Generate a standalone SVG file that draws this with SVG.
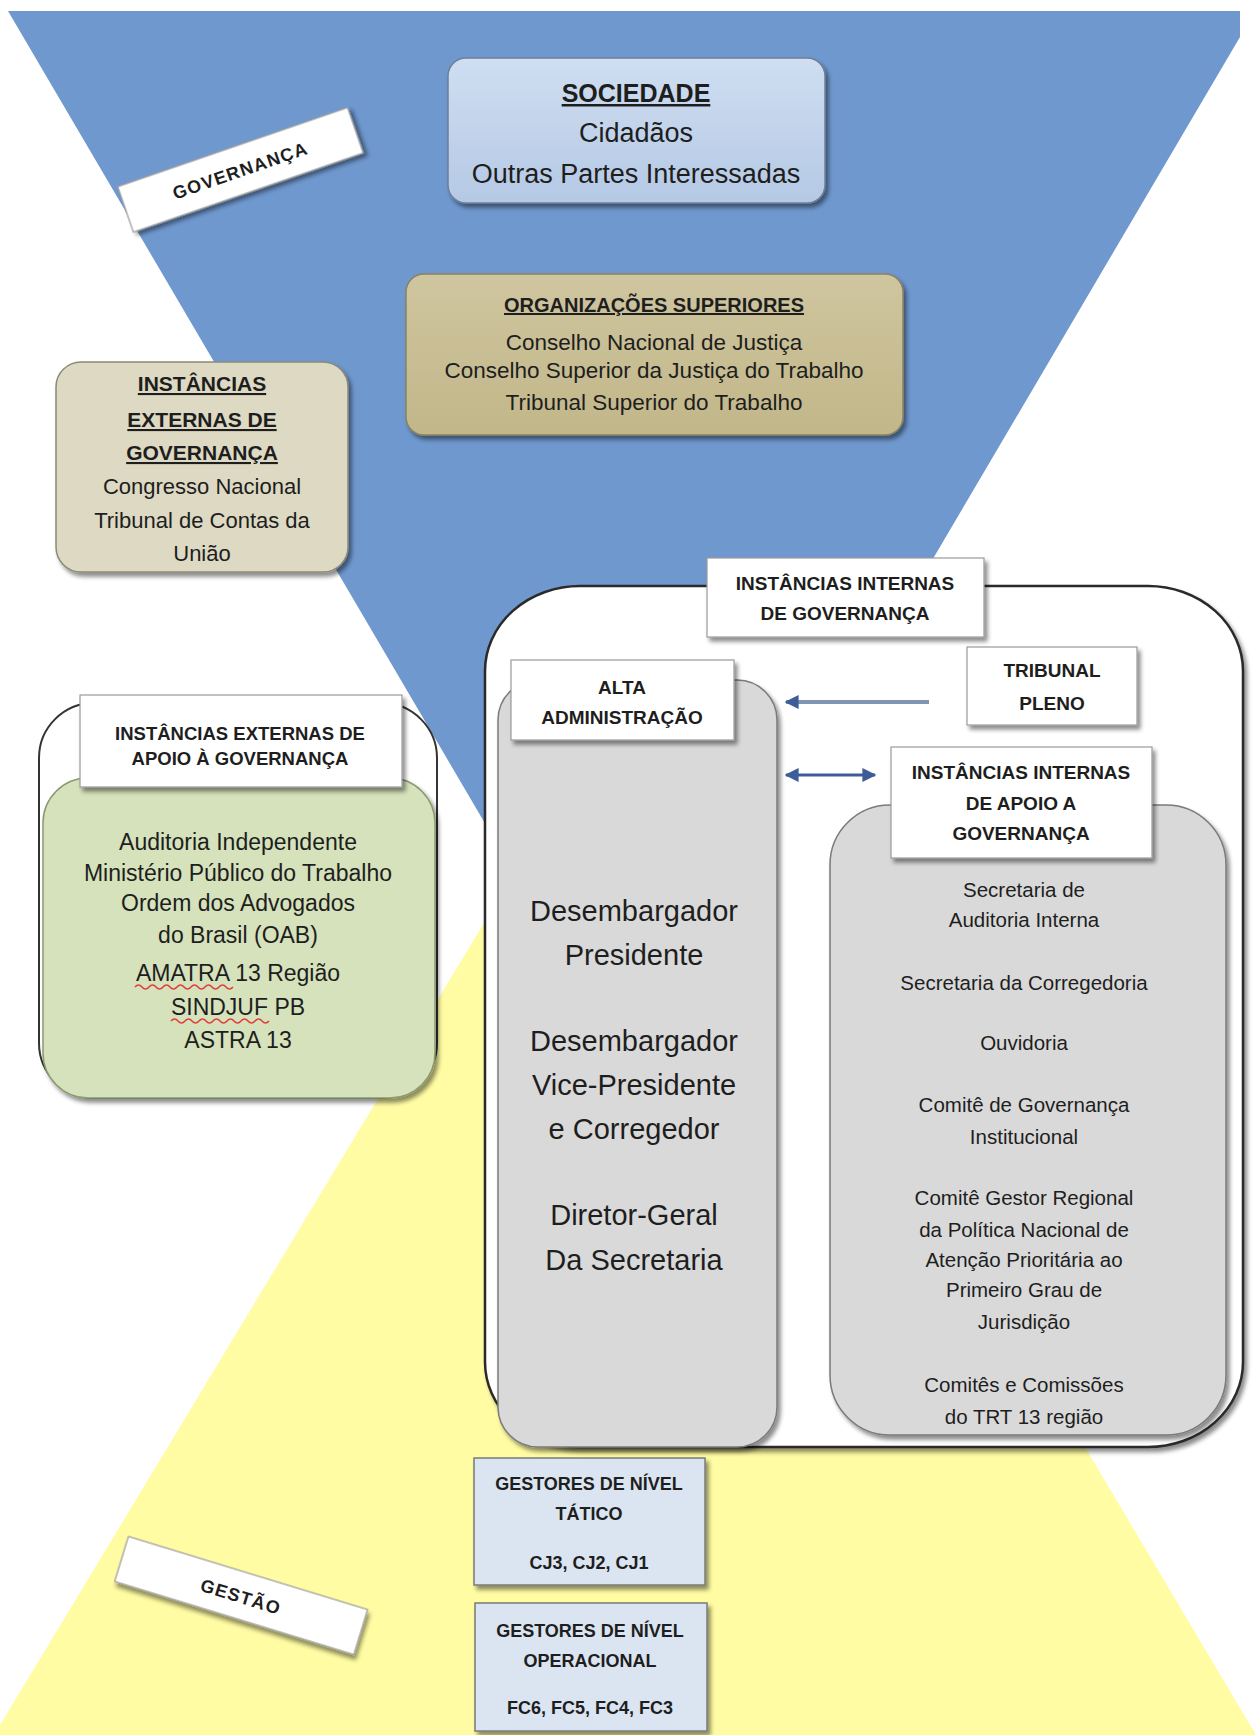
<svg xmlns="http://www.w3.org/2000/svg" width="1255" height="1735" viewBox="0 0 1255 1735">
<defs>
<style>
.t{font-family:"Liberation Sans",Arial,sans-serif;fill:#1e1e1e;text-anchor:middle}
.b{font-weight:bold}
.u{text-decoration:underline}
.lbl{fill:#ffffff;stroke:#9a9a9a;stroke-width:1.2}
.gray{fill:#d9d9d9;stroke:#7a7a7a;stroke-width:1.5}
.gest{fill:#dbe5f1;stroke:#7a7a7a;stroke-width:1.5}
.wave{fill:none;stroke:#e04040;stroke-width:1.6}
</style>
<filter id="sh" x="-10%" y="-10%" width="130%" height="130%">
<feDropShadow dx="3" dy="4" stdDeviation="2" flood-color="#000" flood-opacity="0.45"/>
</filter>
<linearGradient id="gBlue" x1="0" y1="0" x2="0" y2="1">
<stop offset="0" stop-color="#cfdef1"/>
<stop offset="1" stop-color="#b5c9e5"/>
</linearGradient>
<linearGradient id="gTan" x1="0" y1="0" x2="0" y2="1">
<stop offset="0" stop-color="#cfc59f"/>
<stop offset="1" stop-color="#c2b789"/>
</linearGradient>
<marker id="ah" viewBox="0 0 10 10" refX="9" refY="5" markerWidth="14" markerHeight="14" markerUnits="userSpaceOnUse" orient="auto-start-reverse">
<path d="M0,0 L10,5 L0,10 z" fill="#3c5d98"/>
</marker>
</defs>

<rect x="0" y="0" width="1255" height="1735" fill="#ffffff"/>
<polygon id="governanca-area" points="8,11 1240,11 1240,37 631,1072" fill="#6f98cf"/>
<polygon id="gestao-area" points="630,681 1256,1735 -6,1735" fill="#fffca3"/>

<g id="label-governanca" transform="translate(240,170) rotate(-19)">
<rect class="lbl" x="-121" y="-24" width="243" height="48" filter="url(#sh)"/>
<text class="t b" x="0" y="7" font-size="18" letter-spacing="1.2">GOVERNANÇA</text>
</g>

<g id="sociedade">
<rect x="448" y="58" width="377" height="145" rx="18" fill="url(#gBlue)" stroke="#6d7f99" stroke-width="1.5" filter="url(#sh)"/>
<text class="t b u" x="636" y="102" font-size="25">SOCIEDADE</text>
<text class="t" x="636" y="142" font-size="27">Cidadãos</text>
<text class="t" x="636" y="183" font-size="27">Outras Partes Interessadas</text>
</g>

<g id="organizacoes-superiores">
<rect x="406" y="274" width="497" height="161" rx="18" fill="url(#gTan)" stroke="#8a8262" stroke-width="1.5" filter="url(#sh)"/>
<text class="t b u" x="654" y="312" font-size="20">ORGANIZAÇÕES SUPERIORES</text>
<text class="t" x="654" y="350" font-size="22.5">Conselho Nacional de Justiça</text>
<text class="t" x="654" y="378" font-size="22.5">Conselho Superior da Justiça do Trabalho</text>
<text class="t" x="654" y="410" font-size="22.5">Tribunal Superior do Trabalho</text>
</g>

<g id="instancias-externas-governanca">
<rect x="56" y="362" width="292" height="210" rx="25" fill="#ddd9c3" stroke="#8c8a78" stroke-width="1.5" filter="url(#sh)"/>
<text class="t b u" x="202" y="391" font-size="21">INSTÂNCIAS</text>
<text class="t b u" x="202" y="427" font-size="21">EXTERNAS DE</text>
<text class="t b u" x="202" y="460" font-size="21">GOVERNANÇA</text>
<text class="t" x="202" y="494" font-size="22">Congresso Nacional</text>
<text class="t" x="202" y="528" font-size="22">Tribunal de Contas da</text>
<text class="t" x="202" y="561" font-size="22">União</text>
</g>

<g id="instancias-externas-apoio">
<rect x="39" y="703" width="398" height="395" rx="55" fill="#ffffff" stroke="#333" stroke-width="2"/>
<rect x="43" y="778" width="392" height="320" rx="45" fill="#d5e2bb" stroke="#8a9a70" stroke-width="1.5" filter="url(#sh)"/>
<rect class="lbl" x="80" y="695" width="322" height="92" filter="url(#sh)"/>
<text class="t b" x="240" y="740" font-size="18.5">INSTÂNCIAS EXTERNAS DE</text>
<text class="t b" x="240" y="765" font-size="18.5">APOIO À GOVERNANÇA</text>
<text class="t" x="238" y="850" font-size="23">Auditoria Independente</text>
<text class="t" x="238" y="881" font-size="23">Ministério Público do Trabalho</text>
<text class="t" x="238" y="911" font-size="23">Ordem dos Advogados</text>
<text class="t" x="238" y="943" font-size="23">do Brasil (OAB)</text>
<text class="t" x="238" y="981" font-size="23">AMATRA 13 Região</text>
<text class="t" x="238" y="1015" font-size="23">SINDJUF PB</text>
<text class="t" x="238" y="1048" font-size="23">ASTRA 13</text>
<path class="wave" d="M135 987 q3.5 -4 7 0 t7 0 t7 0 t7 0 t7 0 t7 0 t7 0 t7 0 t7 0 t7 0 t7 0 t7 0 t7 0 t7 0"/>
<path class="wave" d="M171 1021 q3.5 -4 7 0 t7 0 t7 0 t7 0 t7 0 t7 0 t7 0 t7 0 t7 0 t7 0 t7 0 t7 0 t7 0 t7 0"/>
</g>

<g id="instancias-internas-governanca">
<rect x="485" y="586" width="758" height="861" rx="95" ry="85" fill="#ffffff" stroke="#2a2a2a" stroke-width="2.5" filter="url(#sh)"/>
<rect class="lbl" x="707" y="558" width="277" height="79" filter="url(#sh)"/>
<text class="t b" x="845" y="590" font-size="19">INSTÂNCIAS INTERNAS</text>
<text class="t b" x="845" y="620" font-size="19">DE GOVERNANÇA</text>
</g>

<g id="alta-administracao">
<rect class="gray" x="498" y="680" width="279" height="767" rx="40" filter="url(#sh)"/>
<rect class="lbl" x="511" y="660" width="223" height="80" filter="url(#sh)"/>
<text class="t b" x="622" y="694" font-size="19">ALTA</text>
<text class="t b" x="622" y="724" font-size="19">ADMINISTRAÇÃO</text>
<text class="t" x="634" y="921" font-size="29">Desembargador</text>
<text class="t" x="634" y="965" font-size="29">Presidente</text>
<text class="t" x="634" y="1051" font-size="29">Desembargador</text>
<text class="t" x="634" y="1095" font-size="29">Vice-Presidente</text>
<text class="t" x="634" y="1139" font-size="29">e Corregedor</text>
<text class="t" x="634" y="1225" font-size="29">Diretor-Geral</text>
<text class="t" x="634" y="1270" font-size="29">Da Secretaria</text>
</g>

<g id="tribunal-pleno">
<rect class="lbl" x="967" y="647" width="170" height="78" filter="url(#sh)"/>
<text class="t b" x="1052" y="677" font-size="19">TRIBUNAL</text>
<text class="t b" x="1052" y="710" font-size="19">PLENO</text>
</g>

<g id="instancias-internas-apoio">
<rect class="gray" x="830" y="805" width="396" height="630" rx="60" filter="url(#sh)"/>
<rect class="lbl" x="891" y="747" width="261" height="111" filter="url(#sh)"/>
<text class="t b" x="1021" y="779" font-size="19">INSTÂNCIAS INTERNAS</text>
<text class="t b" x="1021" y="810" font-size="19">DE APOIO A</text>
<text class="t b" x="1021" y="840" font-size="19">GOVERNANÇA</text>
<text class="t" x="1024" y="897" font-size="20.5">Secretaria de</text>
<text class="t" x="1024" y="927" font-size="20.5">Auditoria Interna</text>
<text class="t" x="1024" y="990" font-size="20.5">Secretaria da Corregedoria</text>
<text class="t" x="1024" y="1050" font-size="20.5">Ouvidoria</text>
<text class="t" x="1024" y="1112" font-size="20.5">Comitê de Governança</text>
<text class="t" x="1024" y="1144" font-size="20.5">Institucional</text>
<text class="t" x="1024" y="1205" font-size="20.5">Comitê Gestor Regional</text>
<text class="t" x="1024" y="1237" font-size="20.5">da Política Nacional de</text>
<text class="t" x="1024" y="1267" font-size="20.5">Atenção Prioritária ao</text>
<text class="t" x="1024" y="1297" font-size="20.5">Primeiro Grau de</text>
<text class="t" x="1024" y="1329" font-size="20.5">Jurisdição</text>
<text class="t" x="1024" y="1392" font-size="20.5">Comitês e Comissões</text>
<text class="t" x="1024" y="1424" font-size="20.5">do TRT 13 região</text>
</g>

<g id="connectors">
<line x1="929" y1="702" x2="786" y2="702" stroke="#8095b3" stroke-width="4" marker-end="url(#ah)"/>
<line x1="786" y1="775" x2="875" y2="775" stroke="#3c5d98" stroke-width="3" marker-start="url(#ah)" marker-end="url(#ah)"/>
</g>

<g id="gestores-tatico">
<rect class="gest" x="474" y="1458" width="231" height="127" filter="url(#sh)"/>
<text class="t b" x="589" y="1490" font-size="18">GESTORES DE NÍVEL</text>
<text class="t b" x="589" y="1520" font-size="18">TÁTICO</text>
<text class="t b" x="589" y="1569" font-size="18">CJ3, CJ2, CJ1</text>
</g>

<g id="gestores-operacional">
<rect class="gest" x="475" y="1603" width="232" height="128" filter="url(#sh)"/>
<text class="t b" x="590" y="1637" font-size="18">GESTORES DE NÍVEL</text>
<text class="t b" x="590" y="1667" font-size="18">OPERACIONAL</text>
<text class="t b" x="590" y="1714" font-size="18">FC6, FC5, FC4, FC3</text>
</g>

<g id="label-gestao" transform="translate(241,1596) rotate(17)">
<rect class="lbl" x="-125" y="-24" width="250" height="47" filter="url(#sh)"/>
<text class="t b" x="0" y="7" font-size="18" letter-spacing="1.2">GESTÃO</text>
</g>
</svg>
